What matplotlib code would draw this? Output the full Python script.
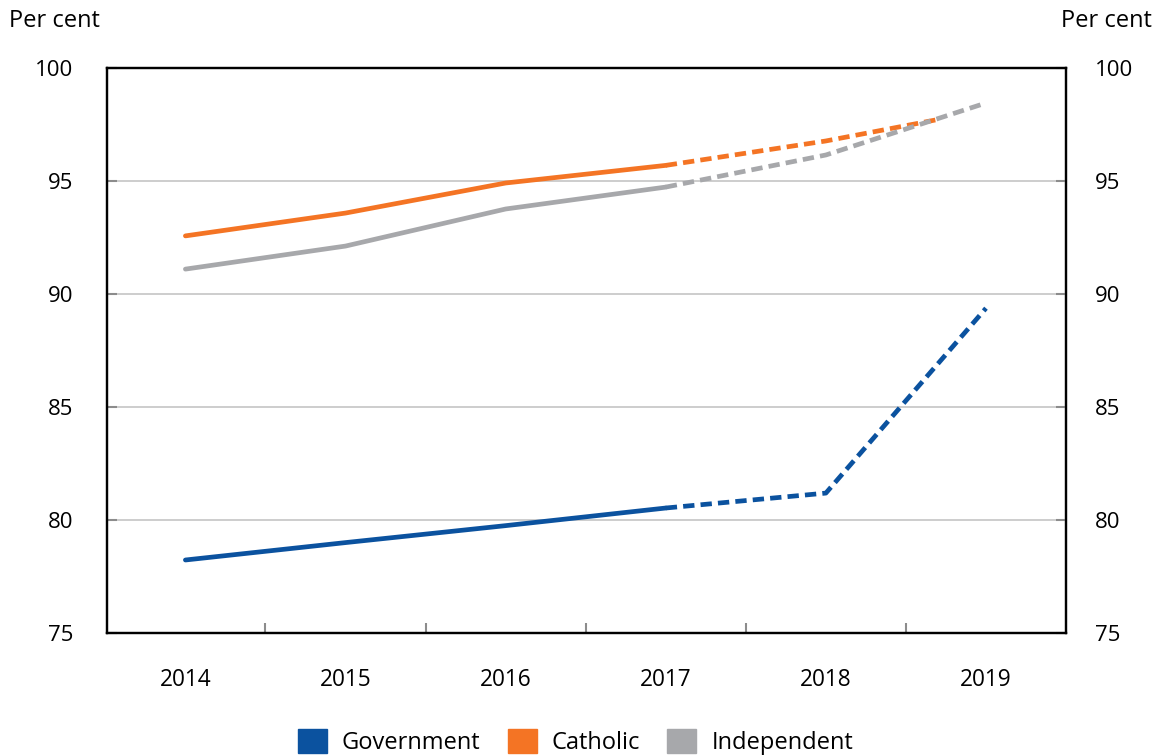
import matplotlib
matplotlib.use("Agg")
import matplotlib.pyplot as plt
from matplotlib.patches import Patch
import numpy as np

plt.rcParams['font.family'] = ['Open Sans', 'DejaVu Sans']

# category labels on the x axis
years = [2014, 2015, 2016, 2017, 2018, 2019]
yticks = [75, 80, 85, 90, 95, 100]

# Government: actual to 2017, projection after
gov_x = [2014, 2015, 2016, 2017, 2018, 2019]
gov_y = [78.23, 79.0, 79.75, 80.53, 81.19, 89.37]

# Catholic: the projected line stops short of 2019
cath_x = [2014, 2015, 2016, 2017, 2018, 2018.7]
cath_y = [92.57, 93.58, 94.91, 95.69, 96.77, 97.72]

# Independent
ind_x = [2014, 2015, 2016, 2017, 2018, 2019]
ind_y = [91.10, 92.12, 93.76, 94.73, 96.15, 98.45]

# index of last actual point (rest is dashed)
split = 3

c_gov = '#0b529f'
c_cath = '#f47424'
c_ind = '#a7a8ab'
grid_c = '#c9c9c9'
tick_c = '#8c8c8c'

fig = plt.figure(figsize=(11.6, 7.56), dpi=100)
ax = fig.add_axes([0.0922, 0.1627, 0.8268, 0.7474])

lw = 3.4
for xs, ys, col in [(cath_x, cath_y, c_cath), (ind_x, ind_y, c_ind), (gov_x, gov_y, c_gov)]:
    ax.plot(xs[:split + 1], ys[:split + 1], color=col, lw=lw,
            solid_capstyle='round', solid_joinstyle='round', zorder=3)
    ax.plot(xs[split:], ys[split:], color=col, lw=lw, dashes=(2.4, 1.3),
            dash_capstyle='butt', zorder=3)

ax.set_xlim(2013.51, 2019.5)
ax.set_ylim(75, 100)

for v in yticks[1:-1]:
    ax.axhline(v, color=grid_c, lw=1.3, zorder=1)

ax.set_xticks(years)
ax.set_xticklabels([str(y) for y in years])
ax.set_xticks(np.arange(2014.5, 2019, 1.0), minor=True)
ax.tick_params(axis='x', which='major', length=0, pad=25, labelsize=16.3)
ax.tick_params(axis='x', which='minor', direction='in', length=7, width=1.5, color=tick_c)

ax.set_yticks(yticks)
ax.tick_params(axis='y', which='major', direction='in', length=7, width=1.5,
               color=tick_c, pad=24, labelsize=16)

ax2 = ax.twinx()
ax2.set_ylim(75, 100)
ax2.set_yticks(yticks)
ax2.tick_params(axis='y', which='major', direction='in', length=7, width=1.5,
                color=tick_c, pad=21, labelsize=16)

for a in (ax, ax2):
    for s in a.spines.values():
        s.set_color('black')
        s.set_linewidth(1.6)

fig.text(0.008, 0.972, 'Per cent', fontsize=17, ha='left', va='center')
fig.text(0.993, 0.972, 'Per cent', fontsize=17, ha='right', va='center')

handles = [Patch(color=c_gov, label='Government'),
           Patch(color=c_cath, label='Catholic'),
           Patch(color=c_ind, label='Independent')]
fig.legend(handles=handles, loc='lower center', bbox_to_anchor=(0.496, -0.019), ncol=3,
           frameon=False, fontsize=17, handlelength=1.23, handleheight=1.23,
           handletextpad=0.64, columnspacing=1.15, borderpad=0.15)

fig.savefig('out.png', dpi=100)
